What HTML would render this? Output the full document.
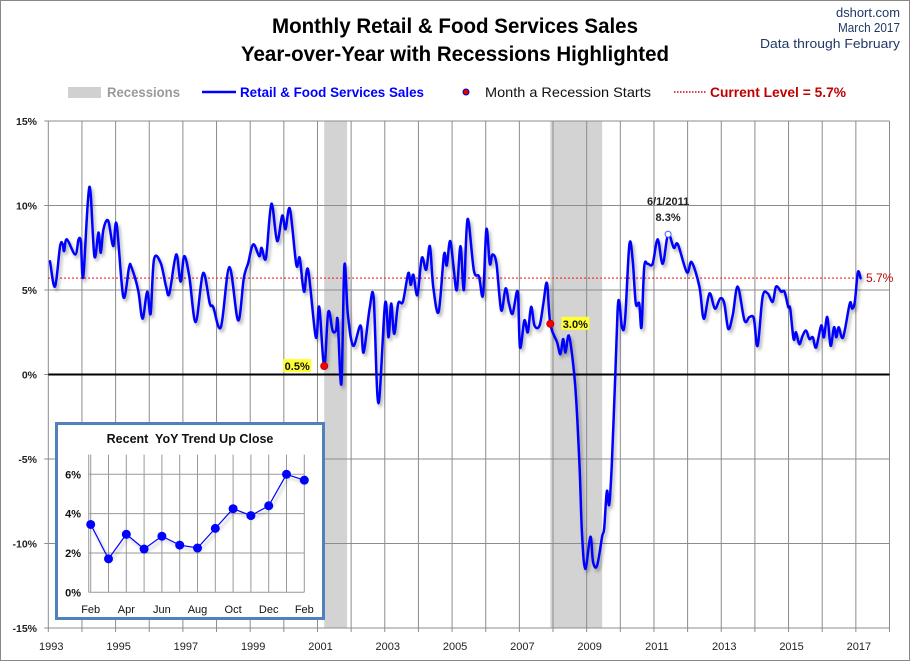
<!DOCTYPE html>
<html><head><meta charset="utf-8">
<style>
html,body{margin:0;padding:0;background:#fff;}
#wrap{position:relative;width:910px;height:661px;overflow:hidden;}
svg text{font-family:"Liberation Sans Narrow","Liberation Sans",sans-serif;}
</style></head>
<body>
<div id="wrap">
<svg id="chart" width="910" height="661" viewBox="0 0 910 661" xmlns="http://www.w3.org/2000/svg">
<defs>
<filter id="shadow" x="-5%" y="-5%" width="110%" height="110%">
<feDropShadow dx="2" dy="3" stdDeviation="1.5" flood-color="#000" flood-opacity="0.3"/>
</filter>
</defs>
<rect x="0.5" y="0.5" width="909" height="660" fill="#fff" stroke="#888"/>
<text x="455" y="33" text-anchor="middle" font-size="21" font-weight="bold" textLength="366" lengthAdjust="spacingAndGlyphs">Monthly Retail &amp; Food Services Sales</text>
<text x="455" y="61" text-anchor="middle" font-size="21" font-weight="bold" textLength="428" lengthAdjust="spacingAndGlyphs">Year-over-Year with Recessions Highlighted</text>
<text x="900" y="17" text-anchor="end" font-size="13" fill="#1f3864" textLength="64" lengthAdjust="spacingAndGlyphs">dshort.com</text>
<text x="900" y="32" text-anchor="end" font-size="13" fill="#1f3864" textLength="62" lengthAdjust="spacingAndGlyphs">March 2017</text>
<text x="900" y="48" text-anchor="end" font-size="13" fill="#1f3864" textLength="140" lengthAdjust="spacingAndGlyphs">Data through February</text>
<g>
<rect x="68" y="87" width="33" height="11" fill="#d0d0d0"/>
<text x="107" y="97" font-size="14" font-weight="bold" fill="#9a9a9a" textLength="73" lengthAdjust="spacingAndGlyphs">Recessions</text>
<line x1="202" y1="92" x2="236" y2="92" stroke="#0000ff" stroke-width="2.5"/>
<text x="240" y="97" font-size="14" font-weight="bold" fill="#0000ff" textLength="184" lengthAdjust="spacingAndGlyphs">Retail &amp; Food Services Sales</text>
<circle cx="466" cy="92" r="3" fill="#e00000" stroke="#0000cc" stroke-width="1"/>
<text x="485" y="97" font-size="14" fill="#111" textLength="166" lengthAdjust="spacingAndGlyphs">Month a Recession Starts</text>
<line x1="674" y1="92" x2="706" y2="92" stroke="#e00000" stroke-width="1.5" stroke-dasharray="1.5,1.5"/>
<text x="710" y="97" font-size="14" font-weight="bold" fill="#c00000" textLength="136" lengthAdjust="spacingAndGlyphs">Current Level = 5.7%</text>
</g>
<g id="main"></g>
<g id="inset"></g>
</svg>
</div>
<script>
const mainDates = [1993.05,1993.2,1993.35,1993.43,1993.47,1993.55,1993.8,1993.9,1993.97,1994.04,1994.22,1994.37,1994.49,1994.56,1994.64,1994.78,1994.93,1995.03,1995.23,1995.4,1995.47,1995.67,1995.8,1995.94,1996.04,1996.14,1996.34,1996.5,1996.6,1996.8,1996.93,1997.04,1997.19,1997.38,1997.6,1997.8,1997.9,1998.13,1998.38,1998.64,1998.81,1998.94,1999.09,1999.27,1999.34,1999.47,1999.63,1999.8,1999.95,2000.05,2000.18,2000.37,2000.47,2000.6,2000.72,2000.95,2001.05,2001.2,2001.32,2001.45,2001.55,2001.6,2001.71,2001.8,2001.9,2002.06,2002.28,2002.37,2002.55,2002.67,2002.81,2003.01,2003.11,2003.19,2003.28,2003.4,2003.54,2003.7,2003.77,2003.85,2003.97,2004.1,2004.23,2004.34,2004.44,2004.6,2004.76,2004.84,2004.94,2005.04,2005.14,2005.25,2005.35,2005.46,2005.65,2005.8,2005.92,2006.02,2006.12,2006.2,2006.32,2006.46,2006.59,2006.69,2006.8,2006.95,2007.02,2007.15,2007.25,2007.35,2007.45,2007.6,2007.72,2007.82,2007.92,2008.12,2008.22,2008.3,2008.37,2008.47,2008.6,2008.69,2008.79,2008.86,2008.96,2009.11,2009.19,2009.31,2009.46,2009.52,2009.6,2009.67,2009.75,2009.85,2009.92,2009.97,2010.05,2010.14,2010.27,2010.37,2010.46,2010.56,2010.63,2010.71,2010.81,2010.96,2011.11,2011.26,2011.42,2011.59,2011.71,2011.98,2012.12,2012.35,2012.48,2012.65,2012.81,2012.97,2013.09,2013.21,2013.34,2013.49,2013.69,2013.84,2013.97,2014.08,2014.23,2014.38,2014.53,2014.63,2014.78,2014.88,2014.99,2015.05,2015.15,2015.22,2015.32,2015.42,2015.52,2015.62,2015.72,2015.82,2015.97,2016.05,2016.15,2016.25,2016.35,2016.42,2016.49,2016.62,2016.82,2016.89,2016.97,2017.06,2017.14];
const mainValues = [6.7,5.2,7.6,7.7,7.3,8.0,7.1,8.0,7.8,5.8,11.1,7.0,8.4,7.2,8.6,9.1,7.6,8.9,4.6,6.35,6.35,5.0,3.3,4.9,3.6,6.8,6.6,5.2,4.8,7.1,5.5,7.0,5.8,3.1,6.0,4.2,4.0,2.8,6.35,3.2,5.7,6.6,7.7,7.0,7.5,6.9,10.1,7.9,9.4,8.6,9.8,6.5,6.9,4.9,6.2,2.2,4.0,0.5,3.7,2.6,2.6,3.2,-0.55,6.45,3.6,1.7,2.9,1.3,3.9,4.5,-1.7,4.2,2.2,4.2,2.4,4.2,4.3,6.0,5.3,5.9,4.7,6.9,6.2,7.6,5.2,3.7,7.1,6.45,7.9,6.45,5.0,7.6,5.0,9.2,6.15,5.8,4.7,8.6,6.55,7.1,6.55,3.8,5.1,4.2,3.6,4.9,1.6,3.2,2.5,4.0,2.9,2.9,4.3,5.4,3.0,1.9,1.2,2.1,1.3,2.3,0.6,-1.5,-5.5,-9.4,-11.5,-9.6,-11.1,-11.3,-9.6,-9.1,-6.9,-7.7,-5.2,0,3.8,4.3,2.8,3.2,7.7,6.7,4.2,4.2,2.8,6.35,6.55,6.55,8.0,6.55,8.3,7.5,7.7,6.05,6.65,5.2,3.3,4.8,3.9,4.5,4.2,2.7,3.5,5.2,3.2,3.4,3.3,1.7,4.6,4.8,4.3,5.2,4.9,4.9,4.0,3.9,2.1,2.5,1.8,2.3,2.6,2.1,2.2,1.6,2.9,2.2,3.4,1.7,2.8,2.2,2.8,2.2,4.2,3.9,4.3,6.05,5.7];
const recessionStarts = [2001.2, 2007.92];
const recessionEnds = [2001.88, 2009.46];
const recessionStartValues = [0.5, 3.0];
const recessionStartLabels = ["0.5%", "3.0%"];
const yTicks = [15,10,5,0,-5,-10,-15];
const xTickYears = [1993,1995,1997,1999,2001,2003,2005,2007,2009,2011,2013,2015,2017];
const currentLevel = [5.7];
const peakDate = [2011.42];
const peakValue = [8.3];
const insetLabels = ["Feb","","Apr","","Jun","","Aug","","Oct","","Dec","","Feb"];
const insetValues = [3.45,1.7,2.95,2.2,2.85,2.4,2.25,3.25,4.25,3.9,4.4,6.0,5.7];
const insetYTicks = [0,2,4,6];

const NS="http://www.w3.org/2000/svg";
function mk(tag, attrs, parent, txt){const e=document.createElementNS(NS,tag);for(const k in attrs)e.setAttribute(k,attrs[k]);if(txt!==undefined)e.textContent=txt;parent.appendChild(e);return e;}

const PX0=48.3, PX1=889.5, X0=1993, X1=2018, PY0=121, PY1=628, Y0=15, Y1=-15;
const xs=y=>PX0+(y-X0)*(PX1-PX0)/(X1-X0);
const ys=v=>PY0+(Y0-v)*(PY1-PY0)/(Y0-Y1);
const main=document.getElementById('main');

for(let i=0;i<recessionStarts.length;i++){
  const r=mk('rect',{x:xs(recessionStarts[i]),y:PY0,width:xs(recessionEnds[i])-xs(recessionStarts[i]),height:PY1-PY0,fill:'#d3d3d3'},main);
  
  
}
for(const t of yTicks){
  const l=mk('line',{x1:PX0-4,x2:PX1,y1:ys(t),y2:ys(t),stroke:'#8c8c8c','stroke-width':1},main);
  
  
  const tx=mk('text',{x:37,y:ys(t)+4,'text-anchor':'end','font-size':10.5,'font-weight':'bold',fill:'#222'},main,t+'%');
  
  
}
for(let y=X0;y<=X1;y++){
  const l=mk('line',{x1:xs(y),x2:xs(y),y1:PY0,y2:PY1+4,stroke:'#8c8c8c','stroke-width':1},main);
  
  
}
for(const y of xTickYears){
  const tx=mk('text',{x:xs(y)+3,y:650,'text-anchor':'middle','font-size':11,fill:'#222'},main,String(y));
  
  
}
const zero=mk('line',{x1:PX0,x2:PX1,y1:ys(0),y2:ys(0),stroke:'#000','stroke-width':2},main);


const cur=mk('line',{x1:PX0,x2:xs(mainDates[mainDates.length-1]),y1:ys(currentLevel[0]),y2:ys(currentLevel[0]),stroke:'#ff2020','stroke-width':1.5,'stroke-dasharray':'1.5,2.5'},main);


const curT=mk('text',{x:866,y:ys(currentLevel[0])+4,'font-size':12,fill:'#c00000'},main,currentLevel[0]+'%');



// smooth path (Catmull-Rom)
const P=mainDates.map((d,i)=>[xs(d),ys(mainValues[i])]);
let dstr='M'+P[0][0].toFixed(1)+','+P[0][1].toFixed(1);
for(let i=0;i<P.length-1;i++){
  const p0=P[Math.max(0,i-1)],p1=P[i],p2=P[i+1],p3=P[Math.min(P.length-1,i+2)];
  const c1=[p1[0]+(p2[0]-p0[0])/6,p1[1]+(p2[1]-p0[1])/6];
  const c2=[p2[0]-(p3[0]-p1[0])/6,p2[1]-(p3[1]-p1[1])/6];
  dstr+=' C'+c1[0].toFixed(1)+','+c1[1].toFixed(1)+' '+c2[0].toFixed(1)+','+c2[1].toFixed(1)+' '+p2[0].toFixed(1)+','+p2[1].toFixed(1);
}
const line=mk('path',{d:dstr,fill:'none',stroke:'#0000ff','stroke-width':2.5,'stroke-linejoin':'round','stroke-linecap':'round',filter:'url(#shadow)'},main);



for(let i=0;i<recessionStarts.length;i++){
  const cx=xs(recessionStarts[i]), cy=ys(recessionStartValues[i]);
  const c=mk('circle',{cx:cx,cy:cy,r:3.5,fill:'#ff0000',stroke:'#c00000'},main);
  
  
  const left=i===0;
  const bx=left?cx-41:cx+11;
  const bg=mk('rect',{x:bx,y:cy-7,width:28,height:13,fill:'#ffff33'},main);
  
  
  const t=mk('text',{x:bx+14,y:cy+4,'text-anchor':'middle','font-size':11,'font-weight':'bold',fill:'#111'},main,recessionStartLabels[i]);
  
  
}
const pk=mk('circle',{cx:xs(peakDate[0]),cy:ys(peakValue[0]),r:3,fill:'#fff',stroke:'#4060ff','stroke-width':1},main);


const pk1=mk('text',{x:xs(peakDate[0]),y:ys(peakValue[0])-29,'text-anchor':'middle','font-size':11,'font-weight':'bold',fill:'#222'},main,'6/1/2011');


const pk2=mk('text',{x:xs(peakDate[0]),y:ys(peakValue[0])-13,'text-anchor':'middle','font-size':11,'font-weight':'bold',fill:'#222'},main,peakValue[0]+'%');



const inset=document.getElementById('inset');
const box=mk('rect',{x:56.5,y:423.5,width:267,height:195,fill:'#fff',stroke:'#4f81bd','stroke-width':3},inset);


const it=mk('text',{x:190,y:443,'text-anchor':'middle','font-size':12.5,'font-weight':'bold',fill:'#111','xml:space':'preserve'},inset,'Recent\u00A0 YoY Trend Up Close');


const IX0=90.7, IDX=(304.3-90.7)/(insetValues.length-1), IY0=592.3, IPER=19.67;
const ix=i=>IX0+i*IDX, iy=v=>IY0-v*IPER;
for(let i=0;i<insetValues.length;i++){
  const l=mk('line',{x1:ix(i),x2:ix(i),y1:iy(7),y2:IY0,stroke:'#999','stroke-width':1},inset);
  
  
  if(insetLabels[i]){
    const t=mk('text',{x:ix(i),y:613,'text-anchor':'middle','font-size':11,fill:'#111'},inset,insetLabels[i]);
    
    
  }
}
const il=mk('line',{x1:IX0-2,x2:IX0-2,y1:iy(7),y2:IY0,stroke:'#999','stroke-width':1},inset);


for(const t of insetYTicks){
  const l=mk('line',{x1:IX0-2,x2:ix(insetValues.length-1),y1:iy(t),y2:iy(t),stroke:'#999','stroke-width':1},inset);
  
  
  const tx=mk('text',{x:81,y:iy(t)+4,'text-anchor':'end','font-size':11,'font-weight':'bold',fill:'#111'},inset,t+'%');
  
  
}
const ipts=insetValues.map((v,i)=>ix(i).toFixed(1)+','+iy(v).toFixed(1)).join(' ');
const ip=mk('polyline',{points:ipts,fill:'none',stroke:'#0000ff','stroke-width':1.2,filter:'url(#shadow)'},inset);


for(let i=0;i<insetValues.length;i++){
  const c=mk('circle',{cx:ix(i),cy:iy(insetValues[i]),r:4.5,fill:'#0000ff'},inset);
  
  
}
</script>
</body></html>
